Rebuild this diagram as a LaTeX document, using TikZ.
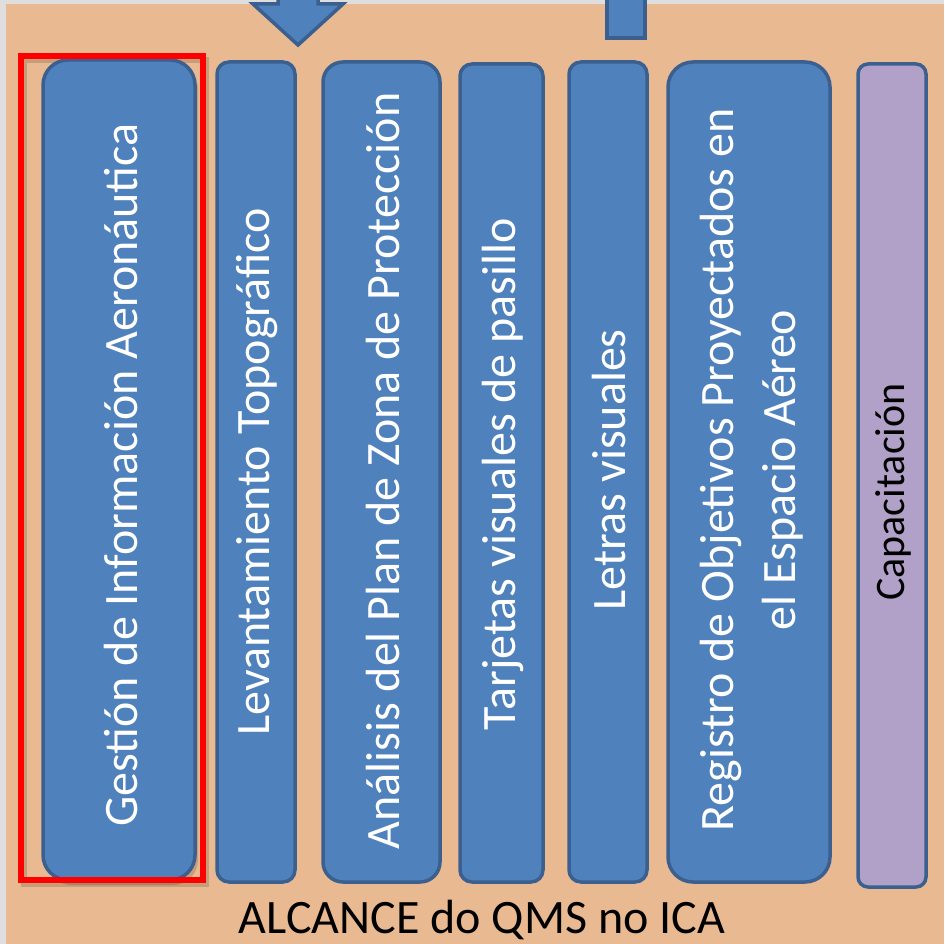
\documentclass[tikz,border=0pt]{standalone}
\usepackage{fontspec}
\setmainfont{Carlito}
\definecolor{bggrey}{HTML}{DEDEDE}
\definecolor{bgorange}{HTML}{E9B991}
\definecolor{boxblue}{HTML}{4F81BD}
\definecolor{boxedge}{HTML}{3B6090}
\definecolor{boxpurple}{HTML}{B1A0C7}
\definecolor{redline}{HTML}{FF0000}
\tikzset{
  pillbox/.style={fill=boxblue,draw=boxedge,line width=3.5pt},
  purplebox/.style={fill=boxpurple,draw=boxedge,line width=3.5pt},
  vlabel/.style={rotate=90,text=white,font=\fontsize{48}{62}\selectfont,align=center},
}
\begin{document}
\begin{tikzpicture}[x=1pt,y=-1pt]
\useasboundingbox (0,0) rectangle (944,944);
\clip (0,0) rectangle (944,944);
\fill[bggrey] (0,0) rectangle (944,944);
\fill[bgorange] (6,4) rectangle (944,944);
% top arrow and bar
\draw[pillbox] (278,-10) -- (318,-10) -- (318,4) -- (343,4) -- (298,45) -- (253,4) -- (278,4) -- cycle;
\draw[pillbox] (607,-10) rectangle (645,38);
% shadows
\draw[black,opacity=0.15,line width=6pt] (24,60) rectangle (206,884);
\fill[black,opacity=0.15,rounded corners=25pt] (46,64) rectangle (198,885);
% boxes
\draw[pillbox,rounded corners=25pt] (43,60) rectangle (195,880);
\draw[pillbox,rounded corners=12pt] (217,62) rectangle (295,882);
\draw[pillbox,rounded corners=20pt] (323,62) rectangle (440,882);
\draw[pillbox,rounded corners=12pt] (460,64) rectangle (543,882);
\draw[pillbox,rounded corners=12pt] (569,62) rectangle (647,882);
\draw[pillbox,rounded corners=25pt] (668,62) rectangle (830,882);
\draw[purplebox,rounded corners=10pt] (858,64) rectangle (926,887);
% red highlight
\draw[redline,line width=6pt] (21,56) rectangle (203,880);
% labels
\node[vlabel] (t1) at (121,475) {Gestión de Información Aeronáutica};
\node[vlabel] (t2) at (257,472) {Levantamiento Topográfico};
\node[vlabel] (t3) at (383,471) {Análisis del Plan de Zona de Protección};
\node[vlabel] (t4) at (503,474) {Tarjetas visuales de pasillo};
\node[vlabel] (t5) at (609,470) {Letras visuales};
\node[vlabel] (t6) at (752,470) {Registro de Objetivos Proyectados en\\el Espacio Aéreo};
\node[vlabel,text=black,font=\fontsize{42}{50}\selectfont] (t7) at (893,492) {Capacitación};
\node[font=\fontsize{48}{56}\selectfont] (title) at (482,920) {ALCANCE do QMS no ICA};
\end{tikzpicture}
\end{document}
